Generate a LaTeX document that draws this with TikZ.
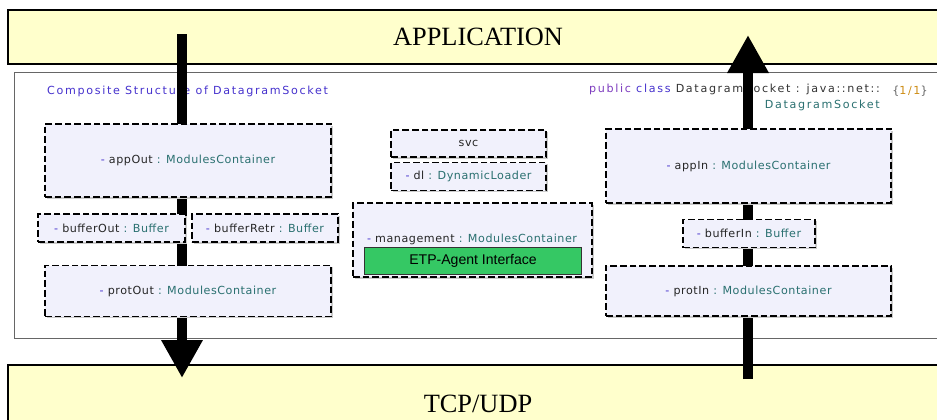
\documentclass[tikz,border=0pt]{standalone}
\usepackage{fontspec}
\setmainfont{Liberation Serif}
\newfontfamily\umlfont[LetterSpace=5]{DejaVu Sans}
\newfontfamily\umlwide[LetterSpace=15]{DejaVu Sans}
\newfontfamily\etpfont{Liberation Sans}
\usepackage {tikz}
\usetikzlibrary {positioning}
\usetikzlibrary{arrows.meta}
\usetikzlibrary{shadows}
\definecolor{layerfill}{RGB}{255,255,204}
\definecolor{partfill}{RGB}{241,241,252}
\definecolor{umlblue}{RGB}{70,50,205}
\definecolor{umlteal}{RGB}{42,112,112}
\definecolor{umlpurple}{RGB}{125,60,190}
\definecolor{umlorange}{RGB}{205,140,20}
\definecolor{etpgreen}{RGB}{53,200,100}
\newcommand{\attr}[2]{{\color{umlblue}-} #1 {\color{umlteal}: #2}}
\tikzset{
    layer/.style = {draw,line width=1.5pt,fill=layerfill,inner sep=0pt,font=\fontsize{22.5}{27}\selectfont},
    frame/.style = {draw=black!60,line width=0.7pt,inner sep=0pt},
    partlabel/.style = {inner sep=0pt,font=\umlfont\fontsize{9.5}{12}\selectfont,text=black!85},
    part/.style = {partlabel,draw,dash pattern=on 0.2cm off 0.09cm,line width=1pt,fill=partfill,
        drop shadow={shadow xshift=0.05cm,shadow yshift=-0.05cm,fill=black!20,opacity=1}},
    iface/.style = {draw=black!80,line width=0.9pt,fill=etpgreen,inner sep=0pt,font=\etpfont\fontsize{12}{14}\selectfont},
    heading/.style = {inner sep=0pt,font=\umlwide\fontsize{9.5}{13}\selectfont},
    flow/.style = {line width=0.3cm,-{Triangle[width=1.17cm,length=1.14cm]}}}

\begin{document}
\begin{tikzpicture}[x=0.03cm,y=-0.03cm]
    \useasboundingbox (0,0) rectangle (937,419);
    % layers and the socket frame
    \node[layer,minimum width=28.2cm,minimum height=1.62cm] (app) at (478,37) {APPLICATION};
    \node[layer,minimum width=28.2cm,minimum height=2.34cm] (tcp) at (478,404) {TCP/UDP};
    \node[frame,minimum width=27.84cm,minimum height=7.98cm] (socket) at (478,205) {};
    \node[heading,anchor=west,text=umlblue] (title) at (47,91) {Composite Structure of DatagramSocket};
    \node[heading,anchor=east,align=right,text=black!80] (classname) at (880,97.5)
        {{\color{umlpurple}public} {\color{umlblue}class} DatagramSocket : java::net::\\{\color{umlteal}DatagramSocket}};
    \node[heading,anchor=west,text=black!60] (pages) at (892,91) {\{{\color{umlorange}1/1}\}};
    % data flow
    \coordinate (outStart) at (182,34);
    \coordinate (outEnd) at (182,378);
    \coordinate (inStart) at (748,379);
    \coordinate (inEnd) at (748,35);
    \draw[flow] (outStart) -- (outEnd);
    \draw[flow] (inStart) -- (inEnd);
    % outgoing side
    \path (188,160.5) node[part,minimum width=8.58cm,minimum height=2.19cm] (appOut) {\attr{appOut}{ModulesContainer}}
     ++ (-76.5,67.5) node[part,minimum width=4.41cm,minimum height=0.84cm] (bufferOut) {\attr{bufferOut}{Buffer}}
     ++ (153.5,0) node[part,minimum width=4.38cm,minimum height=0.84cm] (bufferRetr) {\attr{bufferRetr}{Buffer}}
     ++ (-77,63) node[part,minimum width=8.58cm,minimum height=1.53cm] (protOut) {\attr{protOut}{ModulesContainer}};
    % management
    \path (468.5,143.5) node[part,minimum width=4.65cm,minimum height=0.81cm] (svc) {svc}
     ++ (0,33) node[part,minimum width=4.65cm,minimum height=0.84cm] (dl) {\attr{dl}{DynamicLoader}}
     ++ (4,63.5) node[part,minimum width=7.17cm,minimum height=2.22cm] (management) {}
     ++ (0.5,21) node[iface,minimum width=6.51cm,minimum height=0.81cm] (etp) {ETP-Agent Interface};
    \node[partlabel] (managementLabel) at (472,239) {\attr{management}{ModulesContainer}};
    % incoming side
    \path (748.5,166) node[part,minimum width=8.55cm,minimum height=2.22cm] (appIn) {\attr{appIn}{ModulesContainer}}
     ++ (0.5,67.5) node[part,minimum width=3.96cm,minimum height=0.84cm] (bufferIn) {\attr{bufferIn}{Buffer}}
     ++ (-0.5,57.5) node[part,minimum width=8.55cm,minimum height=1.5cm] (protIn) {\attr{protIn}{ModulesContainer}};
\end{tikzpicture}
\end{document}
